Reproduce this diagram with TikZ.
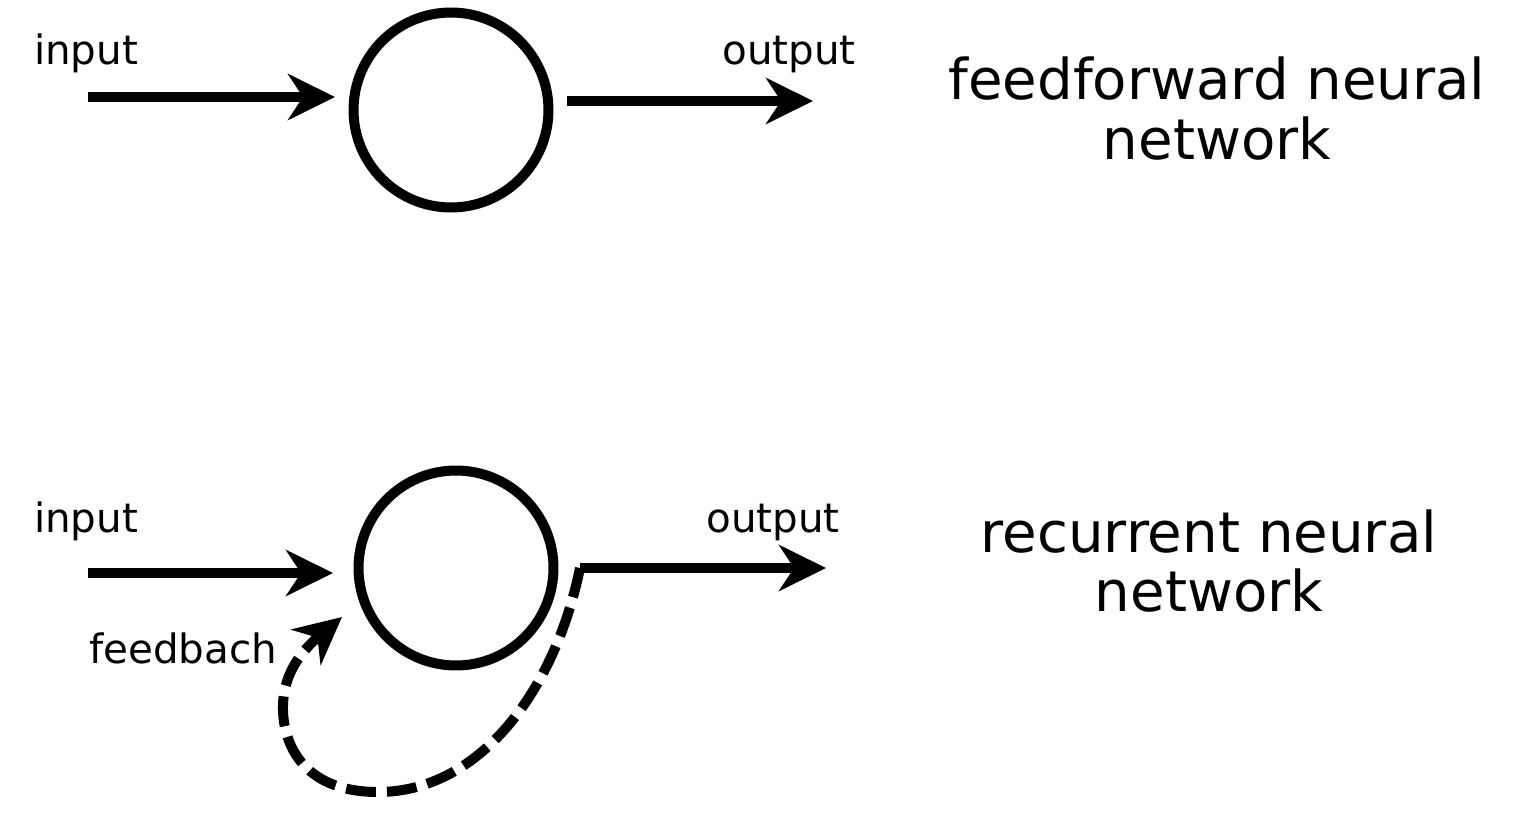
\documentclass[tikz,border=0pt]{standalone}
\usepackage{fontspec}
\setmainfont{DejaVu Sans}
\usetikzlibrary{arrows.meta}

\tikzset{NeuronStyle/.style  = {circle, draw, line width=0.2cm,
                                minimum size=3.9cm, inner sep=0pt},
         ArrowStyle/.style   = {line width=0.2cm,
                                -{Stealth[length=0.94cm, width=0.92cm, inset=0.3cm]}},
         FeedbackStyle/.style = {ArrowStyle, dash pattern=on 0.6cm off 0.22cm},
         LabelStyle/.style   = {anchor=base, inner sep=0pt,
                                font=\fontsize{23}{28}\selectfont},
         TitleStyle/.style   = {align=center, inner sep=0pt,
                                font=\fontsize{32}{34}\selectfont}}

\begin{document}
\begin{tikzpicture}[x=0.02cm, y=-0.02cm]

\useasboundingbox (0,0) rectangle (1513,821);

% feedforward

\node[NeuronStyle] (ffneuron) at (451, 110) {};
\coordinate (ffin)     at (88, 97);
\coordinate (ffinend)  at (335, 97);
\coordinate (ffout)    at (567, 101);
\coordinate (ffoutend) at (813, 101);

\node[LabelStyle] (ffinlabel)  at (86, 65)  {input};
\node[LabelStyle] (ffoutlabel) at (789, 65) {output};
\node[TitleStyle] (fftitle) at (1217, 108.5) {feedforward neural\\network};

\draw[ArrowStyle] (ffin) -- (ffinend);
\draw[ArrowStyle] (ffout) -- (ffoutend);

% recurrent

\node[NeuronStyle] (rnneuron) at (456, 568) {};
\coordinate (rnin)     at (88, 573);
\coordinate (rninend)  at (333, 573);
\coordinate (rnout)    at (580, 568);
\coordinate (rnoutend) at (826, 568);
\coordinate (rnfbend)  at (342, 617);

\node[LabelStyle] (rninlabel)  at (86, 532)  {input};
\node[LabelStyle] (rnoutlabel) at (773, 532) {output};
\node[LabelStyle] (rnfblabel)  at (183, 663) {feedbach};
\node[TitleStyle] (rntitle) at (1209, 561) {recurrent neural\\network};

\draw[ArrowStyle] (rnin) -- (rninend);
\draw[ArrowStyle] (rnout) -- (rnoutend);
\draw[FeedbackStyle] (rnout) .. controls (555, 690) and (480, 792) .. (378, 792)
                     .. controls (300, 792) and (282, 740) .. (283, 705)
                     .. controls (284, 670) and (305, 648) .. (rnfbend);

\end{tikzpicture}
\end{document}
